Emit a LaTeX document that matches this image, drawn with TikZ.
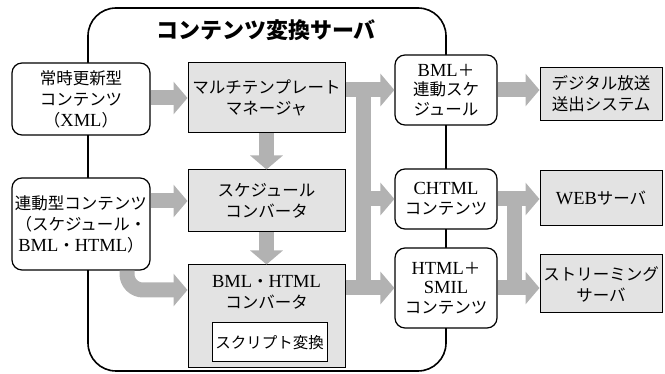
\documentclass[tikz,border=0pt]{standalone}
\usepackage{fontspec}
\setmainfont{Liberation Serif}[Scale=1.12]
\newfontfamily\jpfont{Noto Sans CJK JP}
\newcommand{\lat}[1]{{\rmfamily #1}}
\usetikzlibrary{arrows.meta,positioning}

\tikzset{
	jptext/.style={font=\jpfont\fontsize{16.5}{21}\selectfont, align=center, inner sep=0pt},
	inbox/.style={jptext, draw, line width=1.2pt, rounded corners=10pt, fill=white},
	grbox/.style={jptext, draw, line width=1pt, fill=gray!22},
	scrbox/.style={jptext, draw, line width=1pt, fill=white, font=\jpfont\fontsize{15.5}{19}\selectfont},
	garrow/.style={draw=gray!60, line width=15pt, -{Triangle[width=32pt,length=14pt]}},
	gbus/.style={draw=gray!60, line width=15pt},
}

\begin{document}
\begin{tikzpicture}[x=1pt,y=-1pt]
		\useasboundingbox (0,0) rectangle (665,374);

		\node[draw, line width=1.6pt, rounded corners=28pt, minimum width=358pt, minimum height=363pt] (srv) at (267,189.5) {};
		\node[font=\jpfont\bfseries\fontsize{22}{24}\selectfont] (ttl) at (266,30) {コンテンツ変換サーバ};

		\node[inbox, minimum width=138pt, minimum height=72pt] (upd) at (81,99) {常時更新型\\コンテンツ\\（\lat{XML}）};
		\node[inbox, minimum width=138pt, minimum height=92pt] (lnk) at (81,224) {連動型コンテンツ\\（スケジュール・\\\lat{BML}・\lat{HTML}）};

		\node[grbox, minimum width=157pt, minimum height=70pt] (mtm) at (266.5,98) {マルチテンプレート\\マネージャ};
		\node[grbox, minimum width=157pt, minimum height=62pt] (sch) at (266.5,201) {スケジュール\\コンバータ};
		\node[grbox, minimum width=157pt, minimum height=103pt] (cnv) at (266.5,316.5) {};
		\node[jptext] (cnvt) at (266.5,292) {\lat{BML}・\lat{HTML}\\コンバータ};
		\node[scrbox, minimum width=115pt, minimum height=39pt] (scr) at (269.5,342.5) {スクリプト変換};

		\node[inbox, minimum width=102pt, minimum height=70pt, font=\jpfont\fontsize{16.5}{19.5}\selectfont] (bsc) at (446,90) {\lat{BML}＋\\連動スケ\\ジュール};
		\node[inbox, minimum width=102pt, minimum height=60pt, font=\jpfont\fontsize{16.5}{19.5}\selectfont] (cht) at (446,199) {\lat{CHTML}\\コンテンツ};
		\node[inbox, minimum width=102pt, minimum height=80pt, font=\jpfont\fontsize{16.5}{19.5}\selectfont] (sml) at (446,288) {\lat{HTML}＋\\\lat{SMIL}\\コンテンツ};

		\node[grbox, minimum width=122pt, minimum height=53pt] (dig) at (601,94) {デジタル放送\\送出システム};
		\node[grbox, minimum width=122pt, minimum height=55pt] (web) at (601,198) {\lat{WEB}サーバ};
		\node[grbox, minimum width=122pt, minimum height=58pt] (str) at (601,284) {ストリーミング\\サーバ};

		% gray data flow
		\coordinate (busl) at (363,0);
		\coordinate (busr) at (514,0);
		\draw[garrow] (upd.east |- mtm) -- (mtm.west);
		\draw[garrow] (lnk.east |- sch) -- (sch.west);
		\draw[garrow, rounded corners=16pt] ([xshift=46pt]lnk.south) |- ([yshift=26.5pt]cnv.west);
		\draw[garrow] (mtm.south) -- (sch.north);
		\draw[garrow] (sch.south) -- (cnv.north);
		\draw[gbus] (busl |- bsc) -- (busl |- sml);
		\draw[garrow] (mtm.east |- bsc) -- (bsc.west);
		\draw[garrow] (busl |- cht) -- (cht.west);
		\draw[garrow] (cnv.east |- sml) -- (sml.west);
		\draw[gbus] (busr |- cht) -- (busr |- sml);
		\foreach \a/\b in {bsc/dig,cht/web,sml/str} {
			\draw[garrow] (\a.east) -- (\a.east -| \b.west);
		}
	\end{tikzpicture}
\end{document}
